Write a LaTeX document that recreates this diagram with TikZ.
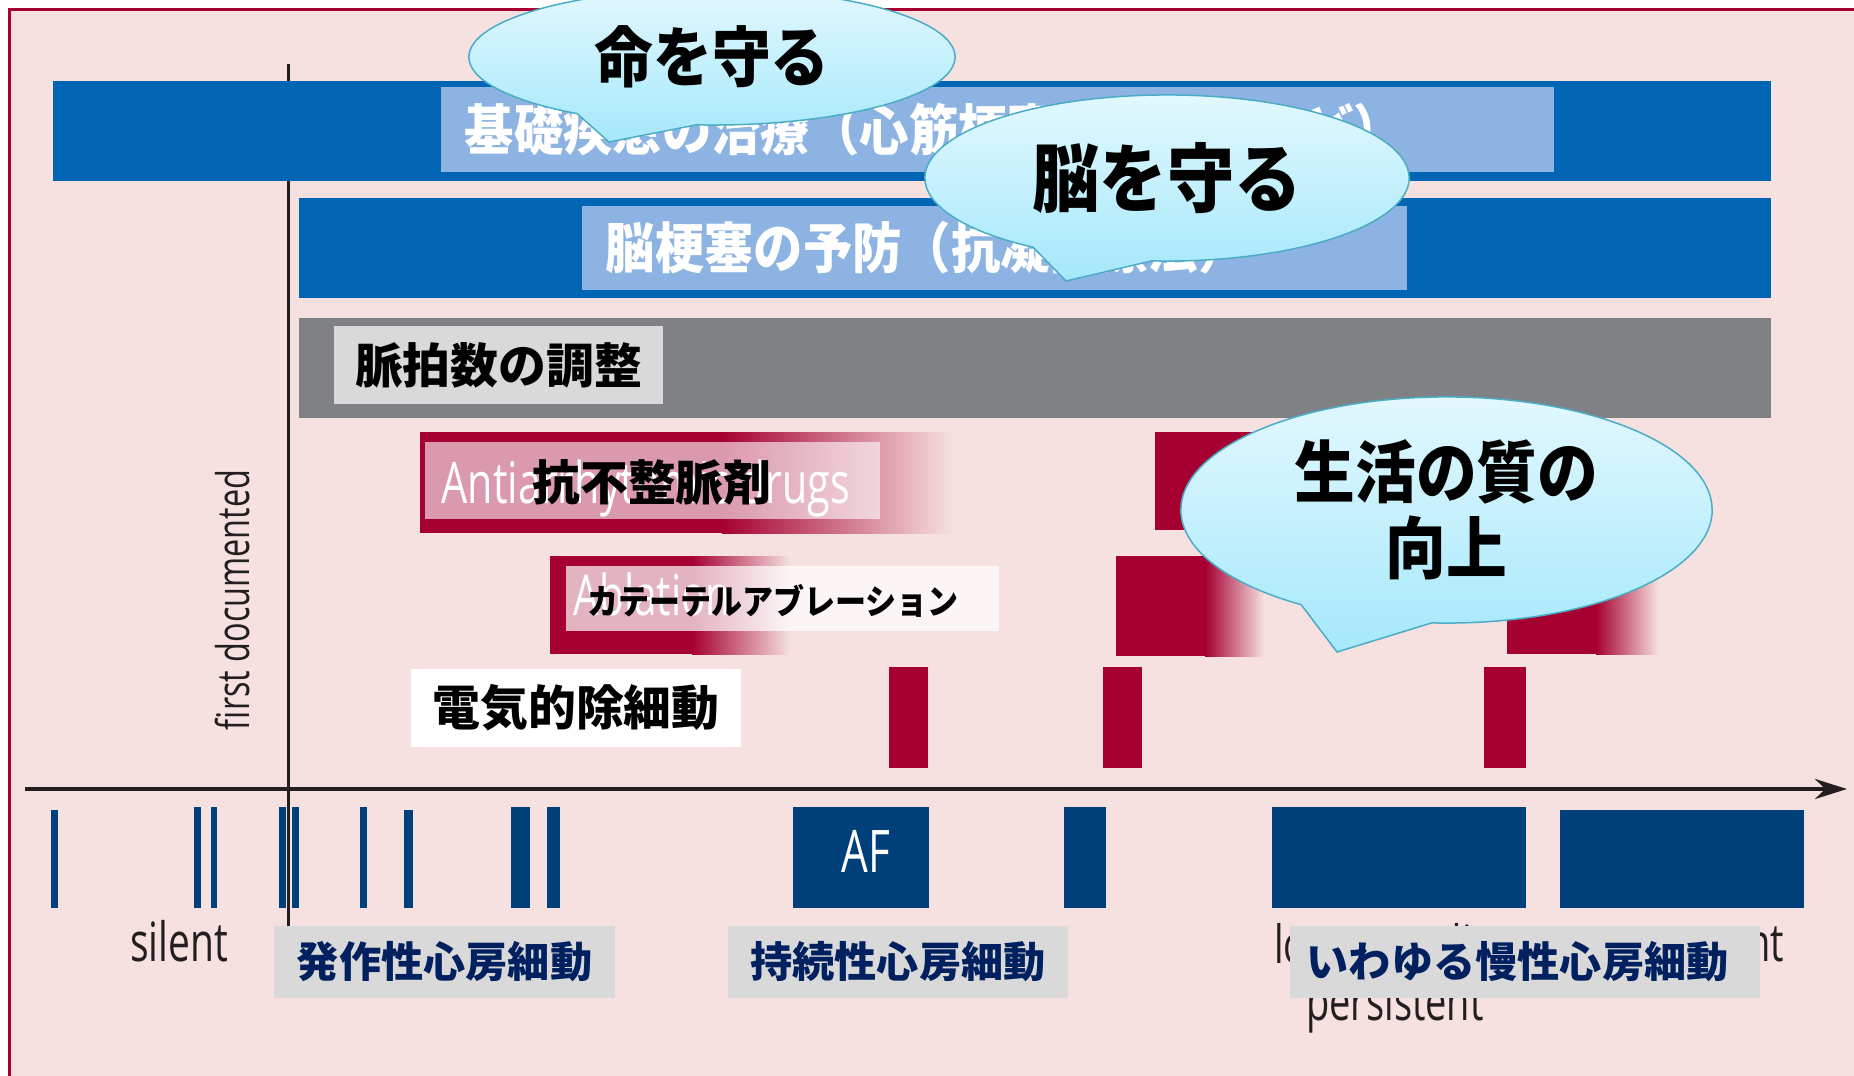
\documentclass[tikz,border=0pt]{standalone}
\usepackage{fontspec}
\usetikzlibrary{shapes.callouts,arrows.meta}

\newfontfamily\jpfont{Noto Sans CJK JP}[FakeStretch=0.9, BoldFont={Noto Sans CJK JP Black}]
\newfontfamily\jpwide{Noto Sans CJK JP}[BoldFont={Noto Sans CJK JP Black}]
\newfontfamily\enfont{Open Sans}[FakeStretch=0.72]

\definecolor{bgpink}{RGB}{246,224,224}
\definecolor{afred}{RGB}{166,0,50}
\definecolor{barblue}{RGB}{0,102,179}
\definecolor{barlight}{RGB}{141,179,226}
\definecolor{ratebar}{RGB}{128,129,133}
\definecolor{lblgray}{RGB}{217,217,217}
\definecolor{afnavy}{RGB}{0,64,122}
\definecolor{lblnavy}{RGB}{0,32,96}
\definecolor{axisdark}{RGB}{35,31,32}
\definecolor{bubtop}{RGB}{226,248,255}
\definecolor{bubbot}{RGB}{165,232,250}
\definecolor{bubedge}{RGB}{75,172,198}

\tikzset{
  bubble/.style={ellipse callout, draw=bubedge, line width=0.015cm, top color=bubtop, bottom color=bubbot, inner sep=0pt, callout pointer arc=30, align=center},
  toplbl/.style={fill=barlight, text=white, anchor=north west, inner xsep=0.24cm, inner ysep=0pt, minimum height=0.85cm, align=left, font=\jpfont\bfseries\fontsize{15.6}{16}\selectfont},
  rowlbl/.style={inner sep=0pt, font=\jpwide\bfseries\fontsize{13.6}{14}\selectfont},
  stagelbl/.style={fill=lblgray, text=lblnavy, inner sep=0pt, minimum height=0.72cm, font=\jpwide\bfseries\fontsize{12}{12}\selectfont},
  entext/.style={inner sep=0pt, text=axisdark, font=\enfont\fontsize{#1}{#1}\selectfont},
  entext/.default=15,
  fade/.style={left color=afred, right color=bgpink}
}

\begin{document}
\begin{tikzpicture}[x=0.01cm, y=-0.01cm]
    % Sfondo e cornice
    \useasboundingbox (0,0) rectangle (1854,1076);
    \clip (0,0) rectangle (1854,1076);
    \fill[white] (0,0) rectangle (1854,1076);
    \fill[bgpink] (9.5,10) rectangle (1854,1076);
    \draw[afred, line width=0.03cm] (9.5,1076) -- (9.5,10) -- (1854,10);

    % Assi
    \coordinate (ytop) at (288,64);
    \coordinate (ybot) at (288,930);
    \coordinate (xleft) at (25,789);
    \coordinate (xright) at (1847,789);
    \draw[axisdark, line width=0.03cm] (ytop) -- (ybot);
    \draw[axisdark, line width=0.04cm, -{Stealth[length=0.32cm, width=0.2cm]}] (xleft) -- (xright);
    \node[entext=12.8, rotate=90, anchor=base] (firstdoc) at (249,600) {first documented};

    % Barre blu
    \fill[barblue] (53,81) rectangle (1771,181);
    \node[toplbl, text width=10.65cm] (basis) at (440,86) {基礎疾患の治療（心筋梗塞・高血圧など）};
    \fill[barblue] (299,198) rectangle (1771,298);
    \node[toplbl, text width=7.77cm, minimum height=0.84cm] (stroke) at (581,205) {脳梗塞の予防（抗凝固療法）};

    % Frequenza
    \fill[ratebar] (299,318) rectangle (1771,418);
    \node[rowlbl, fill=lblgray, minimum width=3.29cm, minimum height=0.78cm] (rate) at (498.5,365) {脈拍数の調整};

    % Antiaritmici
    \fill[afred] (420,432) rectangle (722,533);
    \shade[fade] (722,432) rectangle (952,533);
    \fill[afred] (1155,432) rectangle (1300,530);
    \shade[fade] (1300,432) rectangle (1360,530);
    \fill[white, opacity=0.6] (425,442) rectangle (880,519);
    \node[entext=16.3, text=white, anchor=base west] (aaden) at (441,503) {Antiarrhythmic drugs};
    \node[rowlbl] (aad) at (652,482) {抗不整脈剤};

    % Ablazione
    \fill[afred] (550,556) rectangle (692,654);
    \shade[fade] (692,556) rectangle (790,654);
    \fill[afred] (1116,556) rectangle (1205,656);
    \shade[fade] (1205,556) rectangle (1264,656);
    \fill[afred] (1507,556) rectangle (1596,654);
    \shade[fade] (1596,556) rectangle (1658,654);
    \fill[white, opacity=0.7] (566,566) rectangle (999,631);
    \node[entext=16, text=white, anchor=base west] (ablen) at (573,615) {Ablation};
    \node[rowlbl, font=\jpfont\bfseries\fontsize{9.8}{10}\selectfont] (abl) at (773,601) {カテーテルアブレーション};

    % Cardioversione
    \node[rowlbl, fill=white, minimum width=3.3cm, minimum height=0.78cm] (dcv) at (576,708) {電気的除細動};
    \foreach \xa/\xb in {889/928, 1103/1142, 1484/1526}
        \fill[afred] (\xa,667) rectangle (\xb,768);

    % Episodi
    \foreach \xa/\xb/\ya in {51/58/810, 194/201/807, 211/217/807, 279/286/807, 292/299/807, 360/367/807, 404/413/810, 511/530/807, 547/560/807, 793/929/807, 1064/1106/807, 1272/1526/807, 1560/1804/810}
        \fill[afnavy] (\xa,\ya) rectangle (\xb,908);
    \node[entext=16.7, text=white, anchor=base] (af) at (866,872) {AF};

    % Etichette in basso
    \node[entext=15.4, anchor=base] (silent) at (179,961) {silent};
    \node[entext, anchor=base] (lsp1) at (1395,963) {long-standing};
    \node[entext, anchor=base] (lsp2) at (1395,1020) {persistent};
    \node[entext, anchor=base east] (perm) at (1785,961) {permanent};
    \node[stagelbl, minimum width=3.41cm] (parox) at (444.5,962) {発作性心房細動};
    \node[stagelbl, minimum width=3.4cm] (persist) at (898,962) {持続性心房細動};
    \node[stagelbl, anchor=west, inner xsep=0.17cm, text width=4.36cm, align=left] (chronic) at (1289,962) {いわゆる慢性心房細動};

    % Fumetti
    \node[bubble, minimum width=4.86cm, minimum height=1.36cm, callout absolute pointer={(609,142)}, font=\jpfont\bfseries\fontsize{18.6}{18.6}\selectfont] (life) at (712,57) {命を守る};
    \node[bubble, minimum width=4.84cm, minimum height=1.66cm, callout absolute pointer={(1066,281)}, font=\jpfont\bfseries\fontsize{21.3}{21.3}\selectfont] (brain) at (1167,178) {脳を守る};
    \node[bubble, minimum width=5.31cm, minimum height=2.26cm, callout absolute pointer={(1337,652)}, font=\jpfont\bfseries\fontsize{19.2}{21.6}\selectfont] (qol) at (1446.5,510) {生活の質の\\向上};
\end{tikzpicture}
\end{document}
